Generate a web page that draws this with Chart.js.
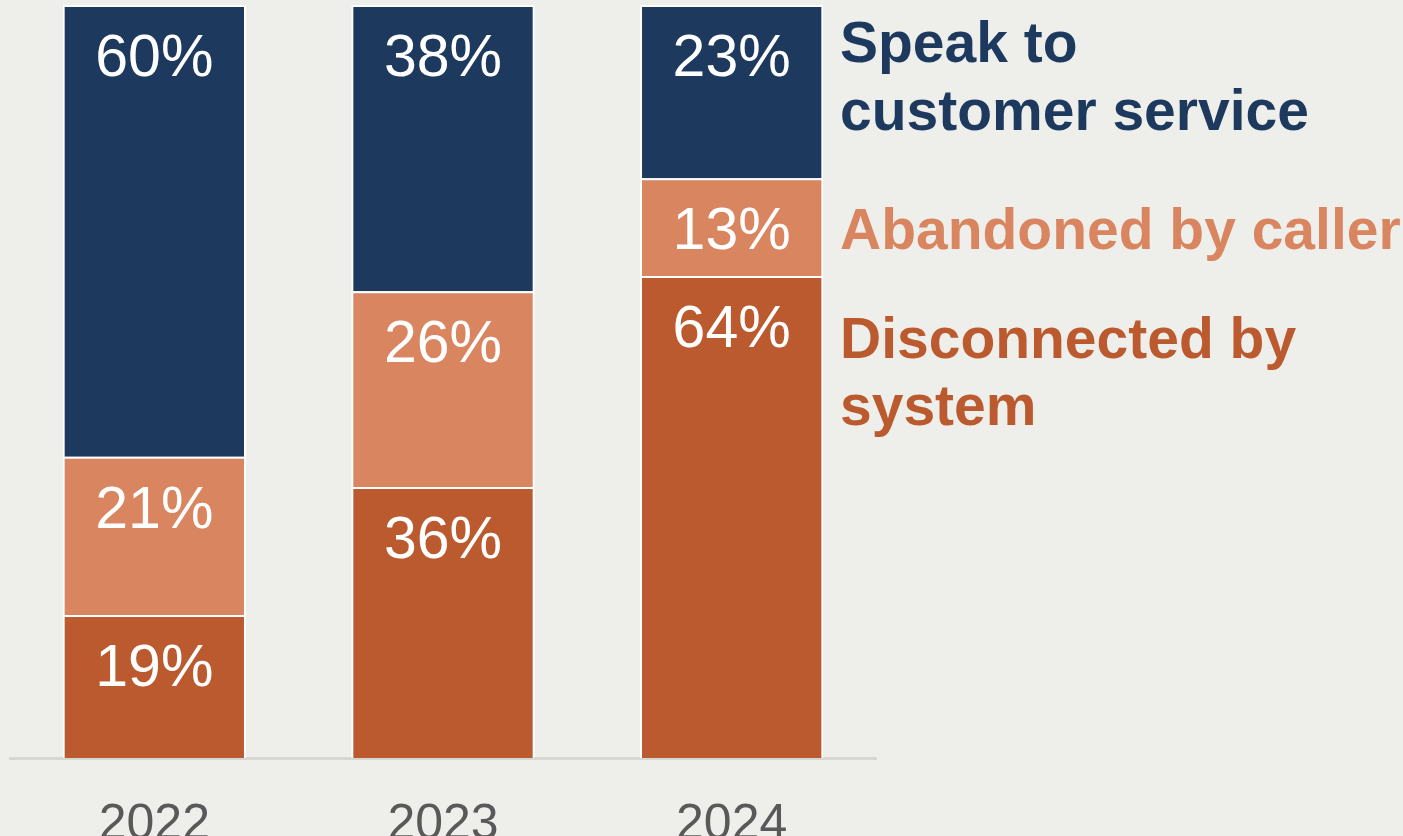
<!DOCTYPE html>
<html>
<head>
<meta charset="utf-8">
<script src="https://cdn.jsdelivr.net/npm/chart.js@4/dist/chart.umd.min.js"></script>
<style>
  html, body { margin: 0; padding: 0; background: #EEEEEA; }
  #wrap { position: relative; width: 1403px; height: 836px; }
</style>
</head>
<body>
<div id="wrap"><canvas id="c" width="1403" height="836"></canvas></div>
<script>
// Call outcomes by year (share of calls, %)
const years = ['2022', '2023', '2024'];
const disconnectedBySystem = [19, 36, 64];
const abandonedByCaller = [21, 26, 13];
const speakToCustomerService = [60, 38, 23];

const seriesNames = [
  ['Disconnected by', 'system'],
  ['Abandoned by caller'],
  ['Speak to', 'customer service']
];
const seriesColors = ['#BB5A2F', '#D98560', '#1D3A5E'];

// White percentage labels near the top of each segment
const segmentLabels = {
  id: 'segmentLabels',
  afterDatasetsDraw(chart) {
    const ctx = chart.ctx;
    ctx.save();
    ctx.fillStyle = '#FFFFFF';
    ctx.font = '59px "Liberation Sans", Arial, sans-serif';
    ctx.textAlign = 'center';
    ctx.textBaseline = 'alphabetic';
    chart.data.datasets.forEach((ds, di) => {
      chart.getDatasetMeta(di).data.forEach((bar, i) => {
        const top = Math.min(bar.y, bar.base);
        ctx.fillText(ds.data[i] + '%', bar.x, top + 71);
      });
    });
    ctx.restore();
  }
};

// Series names to the right of the last bar, coloured like the bars
const sideLegend = {
  id: 'sideLegend',
  afterDraw(chart) {
    const ctx = chart.ctx;
    const x = chart.chartArea.right - 36;
    const lines = [
      { si: 0, baselines: [358, 425] },
      { si: 1, baselines: [249] },
      { si: 2, baselines: [62, 130] }
    ];
    ctx.save();
    ctx.font = 'bold 57px "Liberation Sans", Arial, sans-serif';
    ctx.textAlign = 'left';
    ctx.textBaseline = 'alphabetic';
    lines.forEach(l => {
      ctx.fillStyle = seriesColors[l.si];
      seriesNames[l.si].forEach((t, k) => ctx.fillText(t, x, l.baselines[k]));
    });
    ctx.restore();
  }
};

new Chart(document.getElementById('c'), {
  type: 'bar',
  data: {
    labels: years,
    datasets: [
      { label: seriesNames[0].join(' '), data: disconnectedBySystem, backgroundColor: seriesColors[0] },
      { label: seriesNames[1].join(' '), data: abandonedByCaller, backgroundColor: seriesColors[1] },
      { label: seriesNames[2].join(' '), data: speakToCustomerService, backgroundColor: seriesColors[2] }
    ].map(d => Object.assign(d, {
      borderColor: '#FFFFFF',
      borderWidth: 2,
      barPercentage: 0.635,
      categoryPercentage: 1.0
    }))
  },
  options: {
    responsive: false,
    animation: false,
    devicePixelRatio: 1,
    layout: { padding: { left: 10, right: 527, top: 5, bottom: 0 } },
    plugins: { legend: { display: false }, tooltip: { enabled: false } },
    scales: {
      x: {
        stacked: true,
        grid: { display: false, drawTicks: false },
        border: { display: true, color: '#D6D6D3', width: 3 },
        ticks: {
          color: '#595959',
          padding: 37,
          font: { family: '"Liberation Sans", Arial, sans-serif', size: 50 }
        },
        afterFit(scale) { scale.height = 78; }
      },
      y: {
        stacked: true,
        display: false,
        min: 0,
        max: 100
      }
    }
  },
  plugins: [segmentLabels, sideLegend]
});
</script>
</body>
</html>
